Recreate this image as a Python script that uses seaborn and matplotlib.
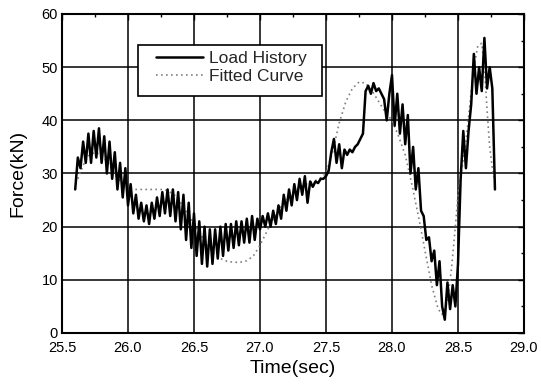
import numpy as np
import pandas as pd
import matplotlib
matplotlib.use("Agg")
import matplotlib.pyplot as plt
from matplotlib.ticker import MultipleLocator
from matplotlib.patches import Rectangle
import seaborn as sns

# ---- data ----
load_t0 = 25.60
load_dt = 0.02
load_values = [
    27, 33, 31, 36, 32, 37.5, 32, 38, 33, 38.5,
    32, 37, 30, 36, 29, 34, 27, 32, 25.5, 31,
    24, 28, 22.5, 26, 21.5, 24.5, 21, 24, 20.5, 24.5,
    21.5, 25.5, 22, 26.5, 22.5, 27, 22, 27, 21, 26.5,
    19.5, 26, 17.5, 24.5, 16, 22.5, 14.5, 21, 13, 20,
    12.5, 19.5, 13, 19.5, 14, 20, 14.5, 20.5, 15.5, 20.5,
    16, 21, 16.5, 21, 17, 21.5, 17, 22, 17.5, 21.5,
    19.5, 22, 20, 22.5, 20, 23, 20.5, 24, 21.5, 26,
    23, 27, 24, 28, 25, 29, 26, 29.5, 24.5, 28.5,
    27.5, 28.5, 28.2, 29, 29, 29.5, 30.5, 34, 36.5, 32,
    35.5, 31, 34.5, 33.5, 34.5, 34, 35, 35.5, 36.5, 37.5,
    45.5, 46.5, 45, 47, 45.5, 46, 45, 44, 40, 45,
    48.5, 39, 45, 37.5, 43, 35.5, 41, 30, 35, 27,
    31, 23, 22, 17.5, 18, 13.5, 15.5, 9, 13.5, 5,
    2.5, 9.5, 4.5, 9, 5, 13, 29, 38, 31, 38,
    43, 52.5, 45, 50, 45.5, 55.5, 46, 50, 46, 27,
]
load_time = load_t0 + load_dt * np.arange(len(load_values))

fit_time = [
    25.62, 25.66, 25.70, 25.75, 25.80, 25.85, 25.90, 25.95, 26.00, 26.05,
    26.10, 26.15, 26.20, 26.25, 26.30, 26.35, 26.40, 26.45, 26.50, 26.55,
    26.60, 26.65, 26.70, 26.75, 26.80, 26.85, 26.90, 26.95, 27.00, 27.05,
    27.10, 27.15, 27.20, 27.25, 27.30, 27.35, 27.40, 27.45, 27.50, 27.55,
    27.60, 27.65, 27.70, 27.75, 27.80, 27.85, 27.90, 27.95, 28.00, 28.05,
    28.10, 28.15, 28.20, 28.25, 28.30, 28.35, 28.38, 28.42, 28.45, 28.48,
    28.50, 28.53, 28.56, 28.59, 28.62, 28.65, 28.68, 28.70, 28.72, 28.74,
    28.76, 28.78,
]
fit_values = [
    29, 31.5, 33.3, 34, 33.5, 32, 30, 28.3, 27.3, 27,
    27, 27, 27, 27, 26.8, 26, 24.5, 22.5, 20.5, 18.5,
    16.5, 15, 14, 13.5, 13.3, 13.3, 13.6, 14.5, 16.5, 19,
    21.5, 23.5, 25, 26.3, 27.3, 28, 28.5, 29, 30, 34,
    39.5, 43.5, 46, 47.2, 47, 45.5, 43.5, 41.5, 40, 37,
    33.5, 28, 22, 15.5, 9, 4.5, 3.5, 6, 12, 20,
    26, 31, 36, 43, 50, 54, 54.5, 50, 42, 35,
    31, 28.5,
]

x_ticks = [25.5, 26.0, 26.5, 27.0, 27.5, 28.0, 28.5, 29.0]
y_ticks = [0, 10, 20, 30, 40, 50, 60]

load_df = pd.DataFrame({"Time": load_time, "Force": load_values})
fit_df = pd.DataFrame({"Time": fit_time, "Force": fit_values})

# ---- style ----
sns.set_style("white")
plt.rcParams["font.family"] = ["Liberation Sans", "DejaVu Sans"]

W, H = 541, 385
fig = plt.figure(figsize=(W / 100, H / 100), dpi=100)
L, R, T, B = 62, 524, 14, 333
ax = fig.add_axes([L / W, 1 - B / H, (R - L) / W, (B - T) / H])

sns.lineplot(data=fit_df, x="Time", y="Force", ax=ax, color="#808080",
             linewidth=1.2, linestyle=(0, (1, 2)), sort=False, zorder=2,
             label="Fitted Curve")
sns.lineplot(data=load_df, x="Time", y="Force", ax=ax, color="black",
             linewidth=1.8, sort=False, zorder=3, label="Load History")

ax.set_xlim(25.5, 29.0)
ax.set_ylim(0, 60)
ax.set_xticks(x_ticks)
ax.set_xticklabels([f"{v:.1f}" for v in x_ticks])
ax.set_yticks(y_ticks)
ax.set_yticklabels([str(v) for v in y_ticks])
ax.xaxis.set_minor_locator(MultipleLocator(0.25))
ax.yaxis.set_minor_locator(MultipleLocator(5))
ax.tick_params(which="both", direction="in", top=True, right=True,
               color="black")
ax.tick_params(which="major", length=4, width=1, labelsize=10.5,
               labelcolor="black")
ax.tick_params(axis="x", which="major", pad=5.5)
ax.tick_params(axis="y", which="major", pad=3)
ax.tick_params(which="minor", length=2.5, width=1)

ax.grid(True, which="major", color="black", linewidth=1.1)
ax.set_axisbelow(True)
for s in ax.spines.values():
    s.set_color("black")
    s.set_linewidth(1.5)

ax.set_xlabel("Time(sec)", fontsize=14, labelpad=4, color="black")
ax.set_ylabel("Force(kN)", fontsize=14, labelpad=11, color="black")

# legend frame (pixel box 138..322 x 45..96)
def ax_x(px):
    return (px - L) / (R - L)

def ax_y(py):
    return (B - py) / (B - T)

ax.add_patch(Rectangle((ax_x(138), ax_y(96)), ax_x(322) - ax_x(138),
                       ax_y(45) - ax_y(96), transform=ax.transAxes,
                       facecolor="white", edgecolor="black", linewidth=1.2,
                       zorder=4))

handles, labels = ax.get_legend_handles_labels()
order = [labels.index("Load History"), labels.index("Fitted Curve")]
leg = ax.legend([handles[i] for i in order], [labels[i] for i in order],
                loc="upper left", bbox_to_anchor=(ax_x(156), ax_y(51)),
                fontsize=12.5, frameon=False, handlelength=2.7,
                borderpad=0, labelspacing=0.15, handletextpad=0.35,
                borderaxespad=0)
leg.set_zorder(5)

fig.savefig("out.png", dpi=100)
